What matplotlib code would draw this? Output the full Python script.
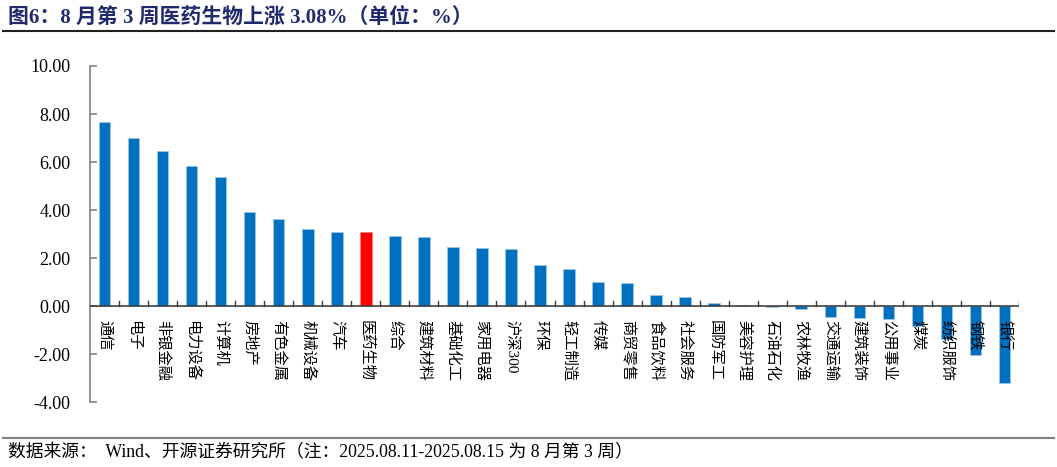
import matplotlib
matplotlib.use("Agg")
import matplotlib.pyplot as plt
from matplotlib.lines import Line2D

plt.rcParams['font.family'] = ['Liberation Serif', 'Noto Sans CJK SC', 'DejaVu Sans']

# 行业周涨跌幅（%）
hangye = ['通信', '电子', '非银金融', '电力设备', '计算机', '房地产', '有色金属', '机械设备',
          '汽车', '医药生物', '综合', '建筑材料', '基础化工', '家用电器', '沪深300', '环保',
          '轻工制造', '传媒', '商贸零售', '食品饮料', '社会服务', '国防军工', '美容护理',
          '石油石化', '农林牧渔', '交通运输', '建筑装饰', '公用事业', '煤炭', '纺织服饰',
          '钢铁', '银行']
zhangfu = [7.65, 7.01, 6.47, 5.83, 5.37, 3.92, 3.62, 3.20,
           3.09, 3.08, 2.91, 2.87, 2.45, 2.42, 2.37, 1.72,
           1.55, 1.00, 0.97, 0.47, 0.39, 0.14, 0.05,
           -0.04, -0.14, -0.46, -0.50, -0.54, -0.82, -1.37,
           -2.04, -3.19]
poudarek = '医药生物'
yticks = [10, 8, 6, 4, 2, 0, -2, -4]

naslov = '图6：8 月第 3 周医药生物上涨 3.08%（单位：%）'
vir = '数据来源：  Wind、开源证券研究所（注：2025.08.11-2025.08.15 为 8 月第 3 周）'

modra = '#0070C0'
rdeca = '#FF0000'
pisava = ['Liberation Serif', 'Noto Sans CJK SC']

fig = plt.figure(figsize=(10.57, 4.67), dpi=100)
ax = fig.add_axes([0.0851, 0.139, 0.8790, 0.7197])

x = list(range(len(hangye)))
barve = [rdeca if h == poudarek else modra for h in hangye]
robovi = ['#FF8080' if h == poudarek else '#9DC3E6' for h in hangye]
ax.bar(x, zhangfu, width=0.4, color=barve, edgecolor=robovi, linewidth=0.6, zorder=2)

ax.set_xlim(-0.5, len(hangye) - 0.5)
ax.set_ylim(-4, 10)
ax.set_yticks(yticks)
ax.set_yticklabels(['%.2f' % v for v in yticks], family='Liberation Serif', fontsize=13)

for s in ['top', 'right', 'bottom']:
    ax.spines[s].set_visible(False)
ax.spines['left'].set_color('#808080')
ax.spines['left'].set_linewidth(1.2)
ax.tick_params(axis='y', direction='in', length=5, color='#808080', width=1.2, pad=14)

# os x na nicli
ax.axhline(0, color='#404040', linewidth=1.2, zorder=3)
ax.set_xticks([])
for i in range(1, len(hangye) + 1):
    ax.plot([i - 0.5, i - 0.5], [0, 0.2], color='#404040', linewidth=1.0, zorder=3)

for i, h in enumerate(hangye):
    ax.annotate(h, (i, 0), xytext=(0, -10), textcoords='offset points',
                rotation=270, ha='center', va='top', fontsize=11,
                family=pisava, zorder=4)

fig.text(0.008, 0.962, naslov, fontsize=15, fontweight='bold', color='#1F2A6E',
         va='center', ha='left', family=pisava)
fig.add_artist(Line2D([0.003, 0.997], [0.934, 0.934], color='#202020', linewidth=1.5))
fig.add_artist(Line2D([0.003, 0.997], [0.063, 0.063], color='#808080', linewidth=1.5))
fig.text(0.008, 0.030, vir, fontsize=12.8, va='center', ha='left', family=pisava)

fig.savefig('out.png', dpi=100)
